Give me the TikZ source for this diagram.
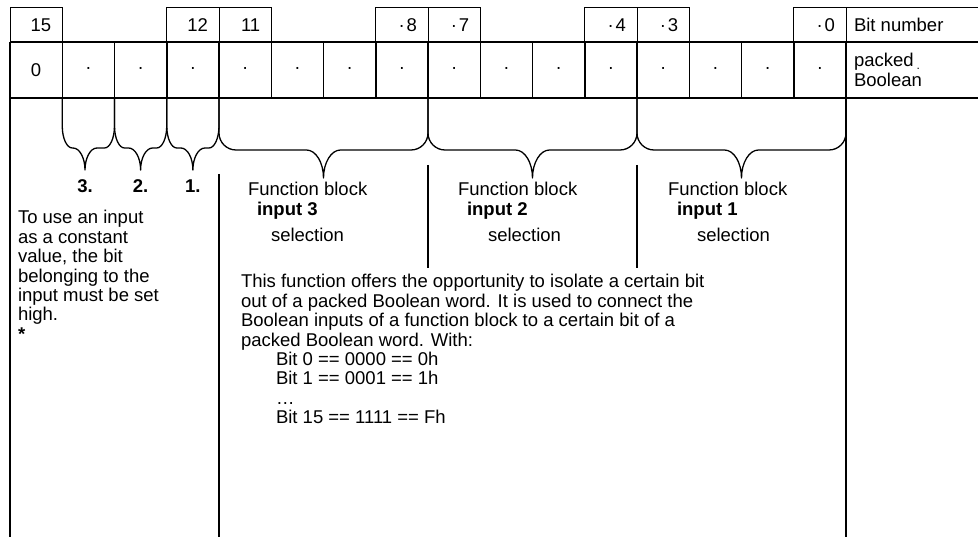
\documentclass[tikz,border=0pt]{standalone}
\usepackage{fontspec}
\setmainfont{Liberation Sans}
% a, b, tip x, ytop, yflat, corner w, corner h, tip w, tip h
\newcommand{\bracepath}[9]{%
 \draw[brace line] (#1,#4) -- (#1,{#5-#7})
   .. controls (#1,{#5-0.45*#7}) and ({#1+0.45*#6},#5) .. ({#1+#6},#5)
   -- ({#3-#8},#5)
   .. controls ({#3-0.45*#8},#5) and (#3,{#5+0.45*#9}) .. (#3,{#5+#9})
   .. controls (#3,{#5+0.45*#9}) and ({#3+0.45*#8},#5) .. ({#3+#8},#5)
   -- ({#2-#6},#5)
   .. controls ({#2-0.45*#6},#5) and (#2,{#5-0.45*#7}) .. (#2,{#5-#7})
   -- (#2,#4);}
\begin{document}
\begin{tikzpicture}[x=1pt,y=-1pt,
  txt/.style={font=\fontsize{18.5}{19.4}\selectfont, inner sep=0pt, outer sep=0pt},
  para/.style={txt, align=left, anchor=north west},
  thinline/.style={line width=1pt},
  thickline/.style={line width=1.5pt},
  brace line/.style={line width=1.3pt, line join=round}]
\useasboundingbox (0,0) rectangle (978,537);
% top row boxes
\foreach \i in {0,3,4,7,8,11,12,15}{
  \draw[thinline] ({10+52.25*\i},42) -- ({10+52.25*\i},8) -- ({10+52.25*(\i+1)},8) -- ({10+52.25*(\i+1)},42);
}
\draw[thinline] (846,42) -- (846,8) -- (978,8);
% row 2 grid
\draw[thickline] (10,42) -- (978,42);
\draw[thickline] (10,98) -- (978,98);
\foreach \i in {0,...,16}{
  \draw[thickline] ({10+52.25*\i},42) -- ({10+52.25*\i},98);
}
% outer verticals below
\draw[thickline] (10,98) -- (10,537);
\draw[thickline] (846,98) -- (846,537);
\draw[thickline] (219,174) -- (219,537);
\draw[thickline] (428,165) -- (428,268);
\draw[thickline] (637,165) -- (637,268);
% braces
\bracepath{62.25}{114.5}{85}{98}{148}{10}{22}{12}{22}
\bracepath{114.5}{166.75}{140.6}{98}{148}{10}{22}{12}{22}
\bracepath{166.75}{219}{192.9}{98}{148}{10}{22}{12}{22}
\bracepath{219}{428}{323.5}{98}{150}{17}{17}{17}{28}
\bracepath{428}{637}{532.5}{98}{150}{17}{17}{17}{28}
\bracepath{637}{846}{741.5}{98}{150}{17}{17}{17}{28}
% top row labels
\foreach \i/\lab in {0/15,3/12,4/11,7/{·\kern2pt 8},8/{·\kern2pt 7},11/{·\kern2pt 4},12/{·\kern2pt 3},15/{·\kern2pt 0}}{
  \node[txt, anchor=base east] (t\i) at ({10+52.25*(\i+1)-11},31.5) {\lab};
}
\node[txt, anchor=base west] (bitnum) at (854,31.5) {Bit number};
% row 2 contents
\node[txt] (d0) at (36.1,70) {0};
\foreach \i in {1,...,15}{
  \node[txt] (d\i) at ({10+52.25*(\i+0.5)},70) {·};
}
\node[para] (packed) at (854,{67-13.58}) {\strut packed\,\raisebox{-3pt}{\fontsize{12}{12}\selectfont .}\\Boolean};
% input numbers
\node[txt, anchor=base, font=\fontsize{18.5}{19.4}\selectfont\bfseries] (n3) at (85,193) {3.};
\node[txt, anchor=base, font=\fontsize{18.5}{19.4}\selectfont\bfseries] (n2) at (140.6,193) {2.};
\node[txt, anchor=base, font=\fontsize{18.5}{19.4}\selectfont\bfseries] (n1) at (192.9,193) {1.};
% function block labels
\node[txt, anchor=base west] (fb3a) at (248,196) {Function block};
\node[txt, anchor=base west] (fb3b) at (257,215.5) {\textbf{input 3}};
\node[txt, anchor=base west] (fb3c) at (271,242) {selection};
\node[txt, anchor=base west] (fb2a) at (458,196) {Function block};
\node[txt, anchor=base west] (fb2b) at (467,215.5) {\textbf{input 2}};
\node[txt, anchor=base west] (fb2c) at (488,242) {selection};
\node[txt, anchor=base west] (fb1a) at (668,196) {Function block};
\node[txt, anchor=base west] (fb1b) at (677,215.5) {\textbf{input 1}};
\node[txt, anchor=base west] (fb1c) at (697,242) {selection};
% left note
\node[para] (note) at (18,{224-13.58}) {\strut To use an input\\as a constant\\value, the bit\\belonging to the\\input must be set\\high.\\\textbf{*}};
% main text
\node[para] (main) at (241,{288-13.58}) {\strut This function offers the opportunity to isolate a certain bit\\
out of a packed Boolean word. It is used to connect the\\
Boolean inputs of a function block to a certain bit of a\\
packed Boolean word. With:\\
\hspace*{35pt}Bit 0 == 0000 == 0h\\
\hspace*{35pt}Bit 1 == 0001 == 1h\\
\hspace*{35pt}…\\
\hspace*{35pt}Bit 15 == 1111 == Fh};
\end{tikzpicture}
\end{document}
